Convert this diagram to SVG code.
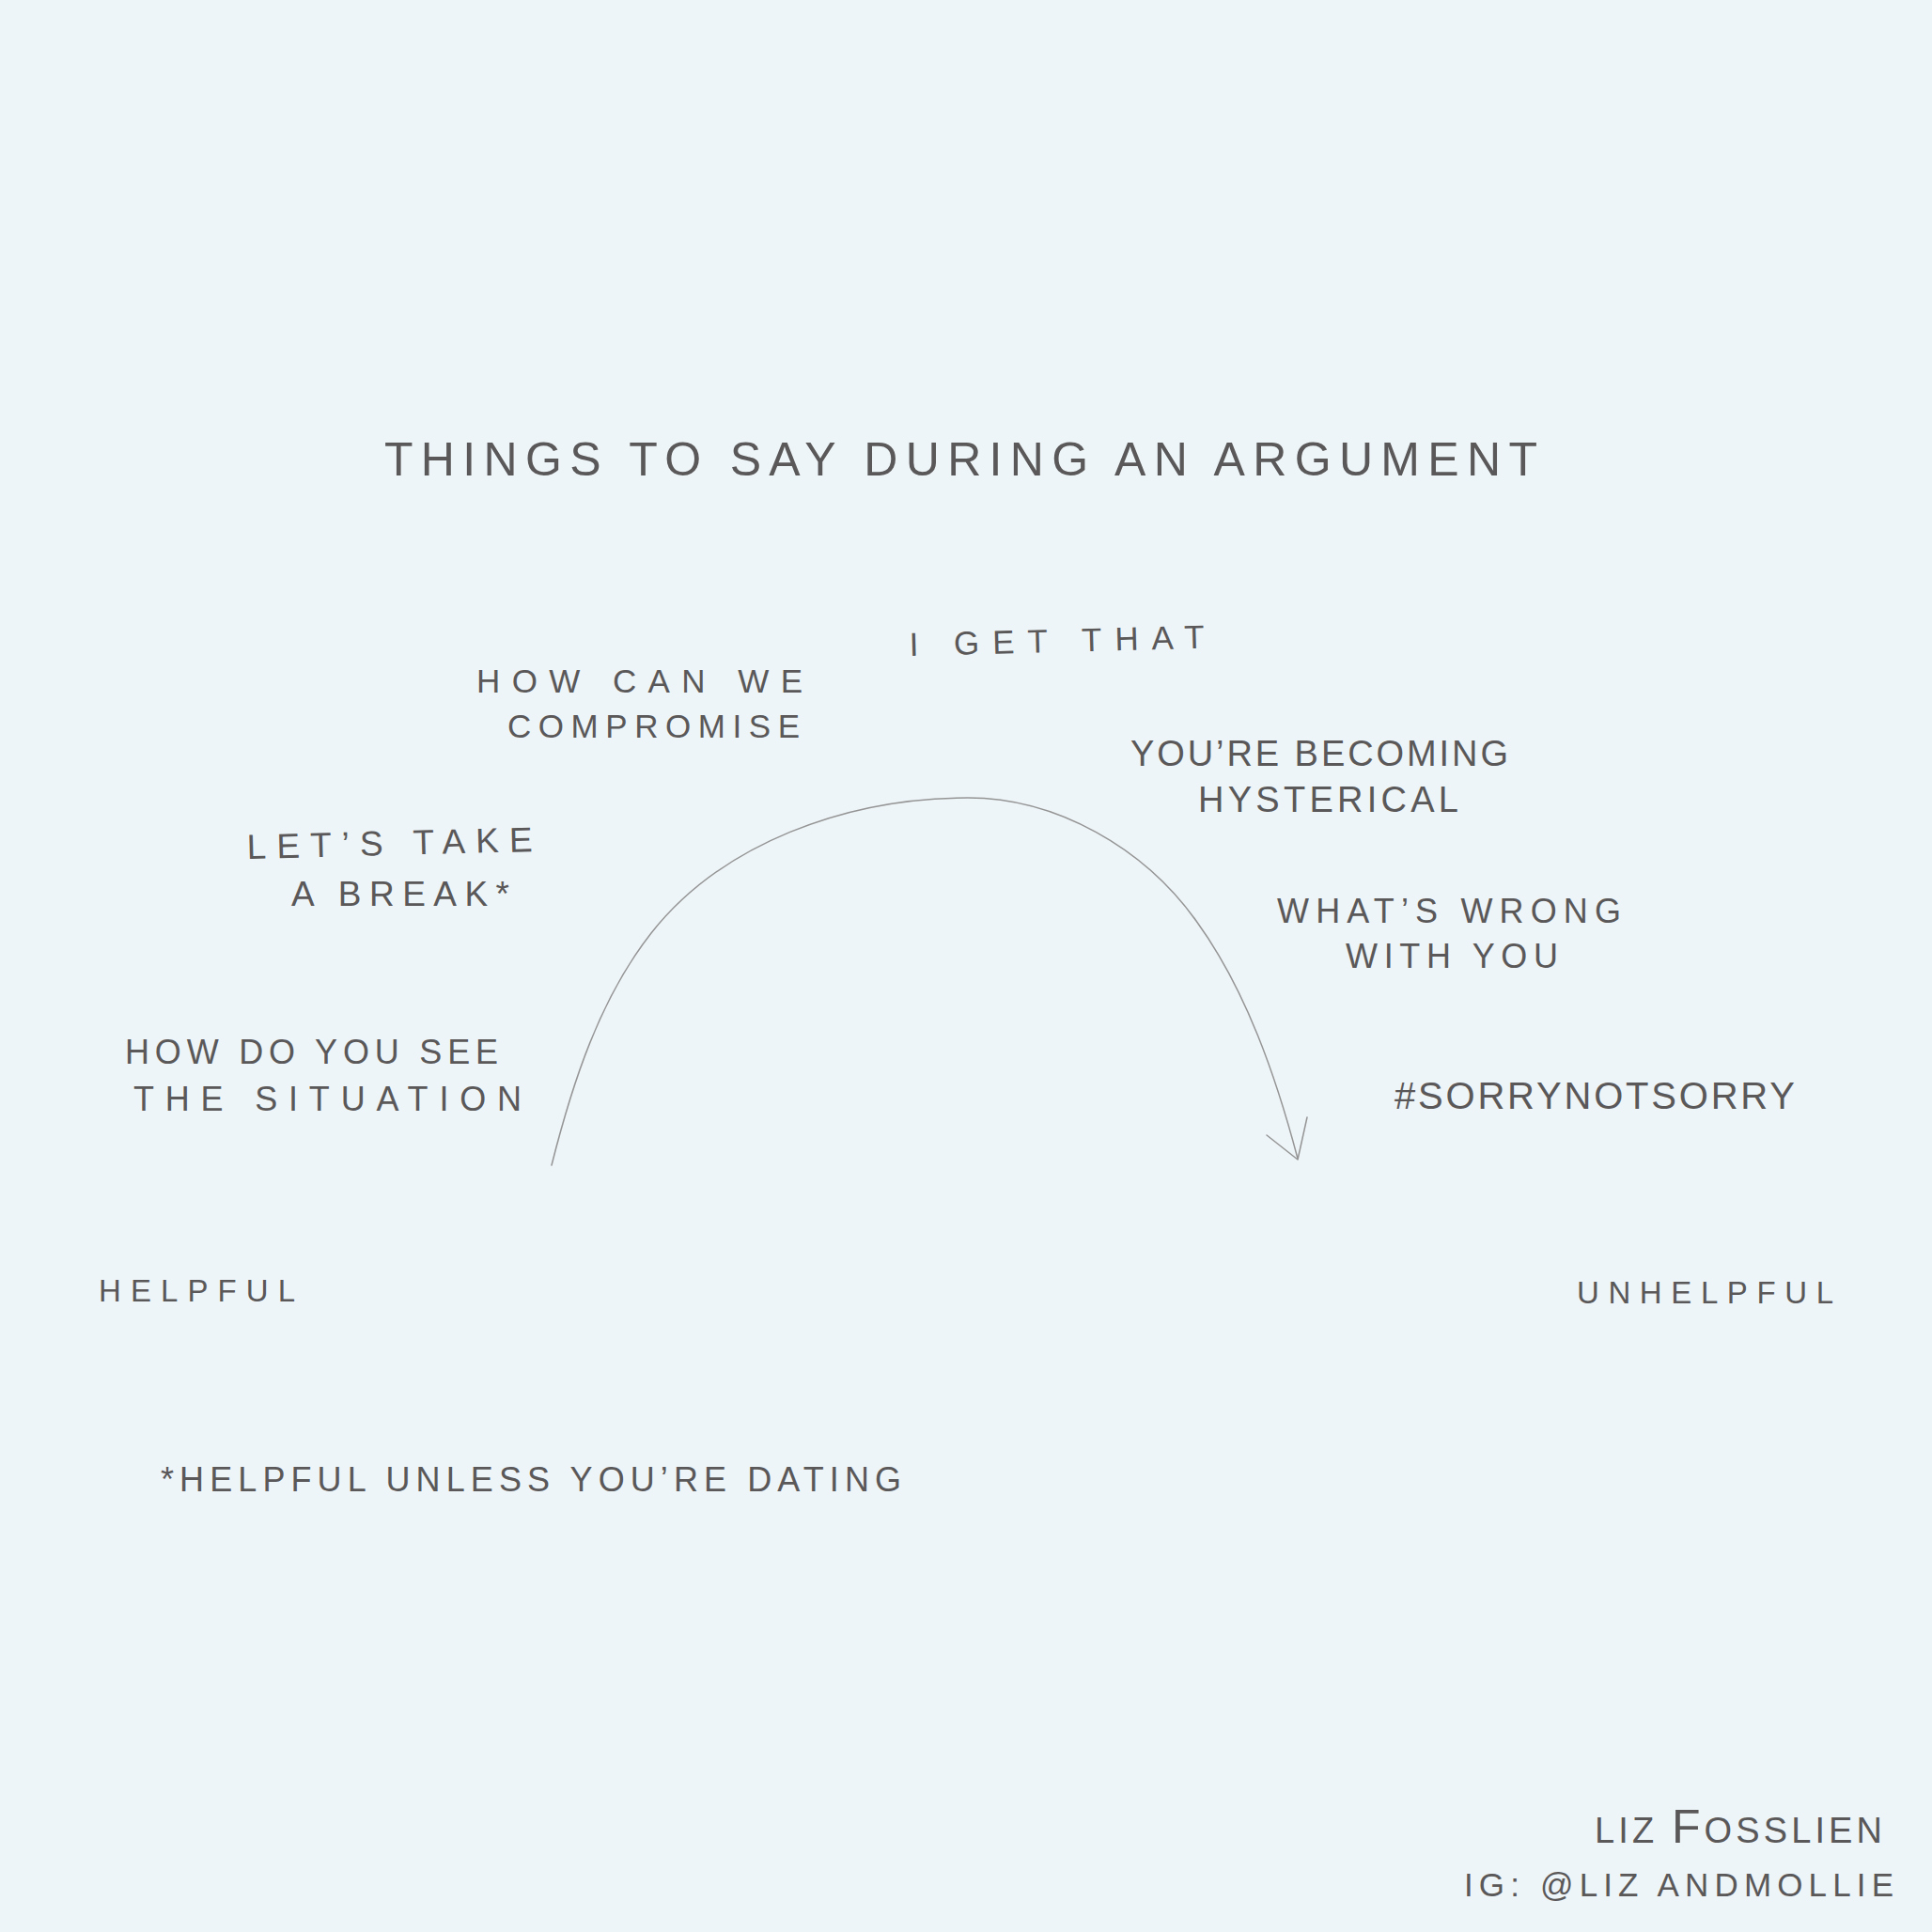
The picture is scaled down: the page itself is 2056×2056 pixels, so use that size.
<svg xmlns="http://www.w3.org/2000/svg" width="2056" height="2056" viewBox="0 0 2056 2056">
<style>
.t{font-family:"Liberation Sans","DejaVu Sans",sans-serif;fill:#5a5858;font-weight:normal}
.arc{fill:none;stroke:#959595;stroke-width:1.5;stroke-linecap:round;stroke-linejoin:round}
</style>
<rect width="2056" height="2056" fill="#eef5f8"/>
<g id="title"><text class="t" x="409" y="506" font-size="50" textLength="1227" lengthAdjust="spacing">THINGS TO SAY DURING AN ARGUMENT</text></g>
<g id="compromise"><text class="t" x="507" y="737" font-size="35" textLength="347" lengthAdjust="spacing">HOW CAN WE</text><text class="t" x="540" y="785" font-size="35" textLength="311" lengthAdjust="spacing">COMPROMISE</text></g>
<g id="get-that"><text class="t" x="968" y="698" font-size="35" textLength="314" lengthAdjust="spacing" transform="rotate(-1.5 968 698)">I GET THAT</text></g>
<g id="hysterical"><text class="t" x="1203" y="815" font-size="38" textLength="402" lengthAdjust="spacing">YOU’RE BECOMING</text><text class="t" x="1275" y="864" font-size="38" textLength="277" lengthAdjust="spacing">HYSTERICAL</text></g>
<g id="break"><text class="t" x="263" y="914" font-size="37" textLength="304" lengthAdjust="spacing" transform="rotate(-1.5 263 914)">LET’S TAKE</text><text class="t" x="310" y="964" font-size="37" textLength="232" lengthAdjust="spacing">A BREAK*</text></g>
<g id="see-situation"><text class="t" x="133" y="1132" font-size="36" textLength="397" lengthAdjust="spacing">HOW DO YOU SEE</text><text class="t" x="142" y="1182" font-size="36" textLength="413" lengthAdjust="spacing">THE SITUATION</text></g>
<g id="wrong"><text class="t" x="1359" y="982" font-size="36" textLength="366" lengthAdjust="spacing">WHAT’S WRONG</text><text class="t" x="1432" y="1030" font-size="36" textLength="226" lengthAdjust="spacing">WITH YOU</text></g>
<g id="sorry"><text class="t" x="1484" y="1180" font-size="40" textLength="426" lengthAdjust="spacing">#SORRYNOTSORRY</text></g>
<g id="helpful"><text class="t" x="105" y="1385" font-size="33" textLength="209" lengthAdjust="spacing">HELPFUL</text></g>
<g id="unhelpful"><text class="t" x="1678" y="1387" font-size="33" textLength="273" lengthAdjust="spacing">UNHELPFUL</text></g>
<g id="footnote"><text class="t" x="171" y="1587" font-size="36" textLength="788" lengthAdjust="spacing">*HELPFUL UNLESS YOU’RE DATING</text></g>
<g id="credit"><text class="t" x="1697" y="1961" font-size="38" textLength="306" lengthAdjust="spacing">LIZ <tspan font-size="50">F</tspan>OSSLIEN</text><text class="t" x="1558" y="2018" font-size="35" textLength="457" lengthAdjust="spacing">IG: @LIZ ANDMOLLIE</text></g>
<g id="connectors">
<path class="arc" d="M587,1240 C609,1153 638,1063 693,993 C768,898 900,849 1030,849 C1125,849 1218,903 1273,980 C1326,1053 1358,1146 1381,1233"/>
<path class="arc" d="M1348,1208 L1381,1234 L1391,1189"/>
</g>
</svg>
